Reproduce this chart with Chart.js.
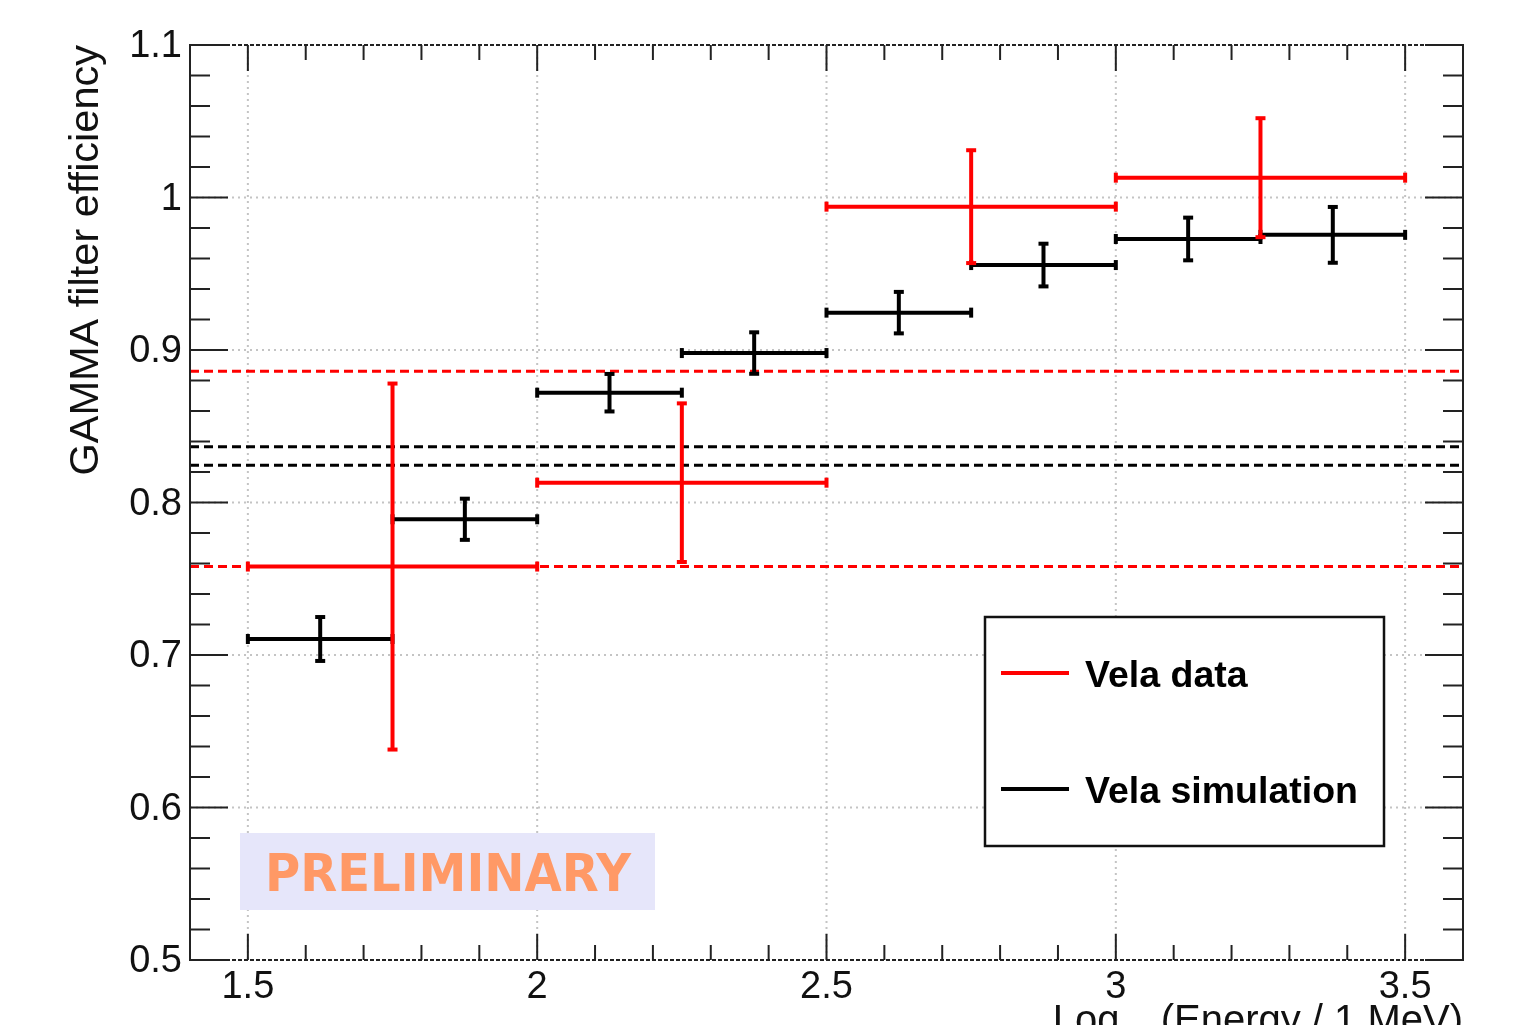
<!DOCTYPE html>
<html>
<head>
<meta charset="utf-8">
<script src="https://cdn.jsdelivr.net/npm/chart.js@4.4.1/dist/chart.umd.min.js"></script>
<style>
  html, body { margin: 0; padding: 0; background: #fff; }
</style>
</head>
<body>
<canvas id="effChart" width="1515" height="1025"></canvas>
<script>
// energy bins in log10(E / 1 MeV)
const dataBinLow  = [1.5, 2.0, 2.5, 3.0];
const dataBinHigh = [2.0, 2.5, 3.0, 3.5];
const dataEff     = [0.758, 0.813, 0.994, 1.013];
const dataErr     = [0.120, 0.052, 0.037, 0.039];

const simBinLow  = [1.5, 1.75, 2.0, 2.25, 2.5, 2.75, 3.0, 3.25];
const simBinHigh = [1.75, 2.0, 2.25, 2.5, 2.75, 3.0, 3.25, 3.5];
const simEff     = [0.7105, 0.789, 0.872, 0.898, 0.9245, 0.9557, 0.9728, 0.9755];
const simErr     = [0.0144, 0.0135, 0.0123, 0.0136, 0.0136, 0.014, 0.014, 0.0183];

// average efficiency +/- 1 sigma (dashed bands)
const dataBand = [0.758, 0.886];
const simBand  = [0.8244, 0.8366];

const xTicks = [1.5, 2, 2.5, 3, 3.5];
const xTickLabels = ['1.5', '2', '2.5', '3', '3.5'];
const yTicks = [0.5, 0.6, 0.7, 0.8, 0.9, 1, 1.1];
const yTickLabels = ['0.5', '0.6', '0.7', '0.8', '0.9', '1', '1.1'];

const RED = '#ff0000';
const BLACK = '#000000';
const FONT = '"Liberation Sans", Arial, sans-serif';

function centers(lo, hi, val) {
  return val.map((v, i) => ({ x: (lo[i] + hi[i]) / 2, y: v }));
}

function line(ctx, x0, y0, x1, y1) {
  ctx.beginPath();
  ctx.moveTo(x0, y0);
  ctx.lineTo(x1, y1);
  ctx.stroke();
}

function drawBins(ctx, xs, ys, lo, hi, val, err, color) {
  ctx.save();
  ctx.strokeStyle = color;
  ctx.lineWidth = 4;
  ctx.lineCap = 'butt';
  for (let i = 0; i < val.length; i++) {
    const x0 = xs.getPixelForValue(lo[i]);
    const x1 = xs.getPixelForValue(hi[i]);
    const xc = xs.getPixelForValue((lo[i] + hi[i]) / 2);
    const yc = ys.getPixelForValue(val[i]);
    const yt = ys.getPixelForValue(val[i] + err[i]);
    const yb = ys.getPixelForValue(val[i] - err[i]);
    line(ctx, x0, yc, x1, yc);
    line(ctx, xc, yt, xc, yb);
    // end caps
    line(ctx, x0, yc - 5, x0, yc + 5);
    line(ctx, x1, yc - 5, x1, yc + 5);
    line(ctx, xc - 5, yt, xc + 5, yt);
    line(ctx, xc - 5, yb, xc + 5, yb);
  }
  ctx.restore();
}

const rootStyle = {
  id: 'rootStyle',
  beforeDatasetsDraw(chart) {
    const { ctx, chartArea: a, scales: { x, y } } = chart;
    ctx.save();
    // dotted grid
    ctx.strokeStyle = '#c4c4c4';
    ctx.lineWidth = 2;
    ctx.setLineDash([2, 4]);
    xTicks.forEach(v => { const px = x.getPixelForValue(v); line(ctx, px, a.top, px, a.bottom); });
    yTicks.slice(1, -1).forEach(v => { const py = y.getPixelForValue(v); line(ctx, a.left, py, a.right, py); });
    // bands
    ctx.lineWidth = 3;
    ctx.setLineDash([9, 5]);
    ctx.strokeStyle = RED;
    dataBand.forEach(v => { const py = y.getPixelForValue(v); line(ctx, a.left, py, a.right, py); });
    ctx.strokeStyle = BLACK;
    simBand.forEach(v => { const py = y.getPixelForValue(v); line(ctx, a.left, py, a.right, py); });
    ctx.restore();
  },
  afterDatasetsDraw(chart) {
    const { ctx, chartArea: a, scales: { x, y } } = chart;
    drawBins(ctx, x, y, simBinLow, simBinHigh, simEff, simErr, BLACK);
    drawBins(ctx, x, y, dataBinLow, dataBinHigh, dataEff, dataErr, RED);

    ctx.save();
    // frame
    ctx.strokeStyle = '#222';
    ctx.lineWidth = 2;
    line(ctx, a.left, a.top - 1, a.left, a.bottom + 1);
    line(ctx, a.right, a.top - 1, a.right, a.bottom + 1);
    ctx.setLineDash([4, 2]);
    line(ctx, a.left, a.top, a.right, a.top);
    line(ctx, a.left, a.bottom, a.right, a.bottom);
    ctx.setLineDash([]);

    // ticks inside the frame
    for (let k = 0; k <= 22; k++) {
      const v = 1.4 + k * 0.1;
      const px = x.getPixelForValue(v);
      const major = Math.abs(v * 2 - Math.round(v * 2)) < 1e-6;
      const len = major ? 26 : 15;
      line(ctx, px, a.bottom, px, a.bottom - len);
      line(ctx, px, a.top, px, a.top + len);
    }
    for (let k = 0; k <= 30; k++) {
      const v = 0.5 + k * 0.02;
      const py = y.getPixelForValue(v);
      const major = k % 5 === 0;
      const len = major ? 38 : 20;
      line(ctx, a.left, py, a.left + len, py);
      line(ctx, a.right, py, a.right - len, py);
    }

    // tick labels
    ctx.fillStyle = '#111';
    ctx.font = '38px ' + FONT;
    ctx.textAlign = 'right';
    ctx.textBaseline = 'middle';
    yTicks.forEach((v, i) => ctx.fillText(yTickLabels[i], 182, y.getPixelForValue(v) + 2));
    ctx.textAlign = 'center';
    ctx.textBaseline = 'alphabetic';
    xTicks.forEach((v, i) => ctx.fillText(xTickLabels[i], x.getPixelForValue(v), 998));

    // axis titles
    ctx.save();
    ctx.font = '41.5px ' + FONT;
    ctx.translate(98, a.top);
    ctx.rotate(-Math.PI / 2);
    ctx.textAlign = 'right';
    ctx.fillText('GAMMA filter efficiency', 0, 0);
    ctx.restore();

    ctx.textAlign = 'left';
    const big = '40px ' + FONT, small = '27px ' + FONT;
    ctx.font = big;
    const wLog = ctx.measureText('Log').width;
    const wRest = ctx.measureText(' (Energy / 1 MeV)').width;
    ctx.font = small;
    const wSub = ctx.measureText('10').width;
    let tx = a.right - (wLog + wSub + wRest);
    const by = 1033;
    ctx.font = big;
    ctx.fillText('Log', tx, by);
    tx += wLog;
    ctx.font = small;
    ctx.fillText('10', tx, by + 20);
    tx += wSub;
    ctx.font = big;
    ctx.fillText(' (Energy / 1 MeV)', tx, by);

    // legend
    ctx.fillStyle = '#fff';
    ctx.fillRect(985, 617, 399, 229);
    ctx.strokeStyle = '#111';
    ctx.lineWidth = 2.5;
    ctx.strokeRect(985, 617, 399, 229);
    ctx.lineWidth = 4;
    ctx.strokeStyle = RED;
    line(ctx, 1001, 673, 1069, 673);
    ctx.strokeStyle = BLACK;
    line(ctx, 1001, 789, 1069, 789);
    ctx.fillStyle = '#000';
    ctx.font = 'bold 37.5px ' + FONT;
    ctx.fillText('Vela data', 1085, 687);
    ctx.fillText('Vela simulation', 1085, 803);

    // preliminary stamp
    ctx.fillStyle = 'rgb(230, 230, 250)';
    ctx.fillRect(240, 833, 415, 77);
    ctx.fillStyle = '#ff9966';
    ctx.font = 'bold 52px "DejaVu Sans", sans-serif';
    const wp = ctx.measureText('PRELIMINARY').width;
    ctx.save();
    ctx.translate(265, 891);
    ctx.scale(366 / wp, 1);
    ctx.fillText('PRELIMINARY', 0, 0);
    ctx.restore();

    ctx.restore();
  }
};

new Chart(document.getElementById('effChart').getContext('2d'), {
  type: 'scatter',
  data: {
    datasets: [
      { label: 'Vela data', data: centers(dataBinLow, dataBinHigh, dataEff), borderColor: RED, backgroundColor: RED, pointRadius: 0 },
      { label: 'Vela simulation', data: centers(simBinLow, simBinHigh, simEff), borderColor: BLACK, backgroundColor: BLACK, pointRadius: 0 }
    ]
  },
  options: {
    responsive: false,
    animation: false,
    layout: { padding: { left: 190, right: 52, top: 45, bottom: 65 } },
    scales: {
      x: { type: 'linear', min: 1.4, max: 3.6, display: false },
      y: { type: 'linear', min: 0.5, max: 1.1, display: false }
    },
    plugins: {
      legend: { display: false },
      tooltip: { enabled: false }
    }
  },
  plugins: [rootStyle]
});
</script>
</body>
</html>
